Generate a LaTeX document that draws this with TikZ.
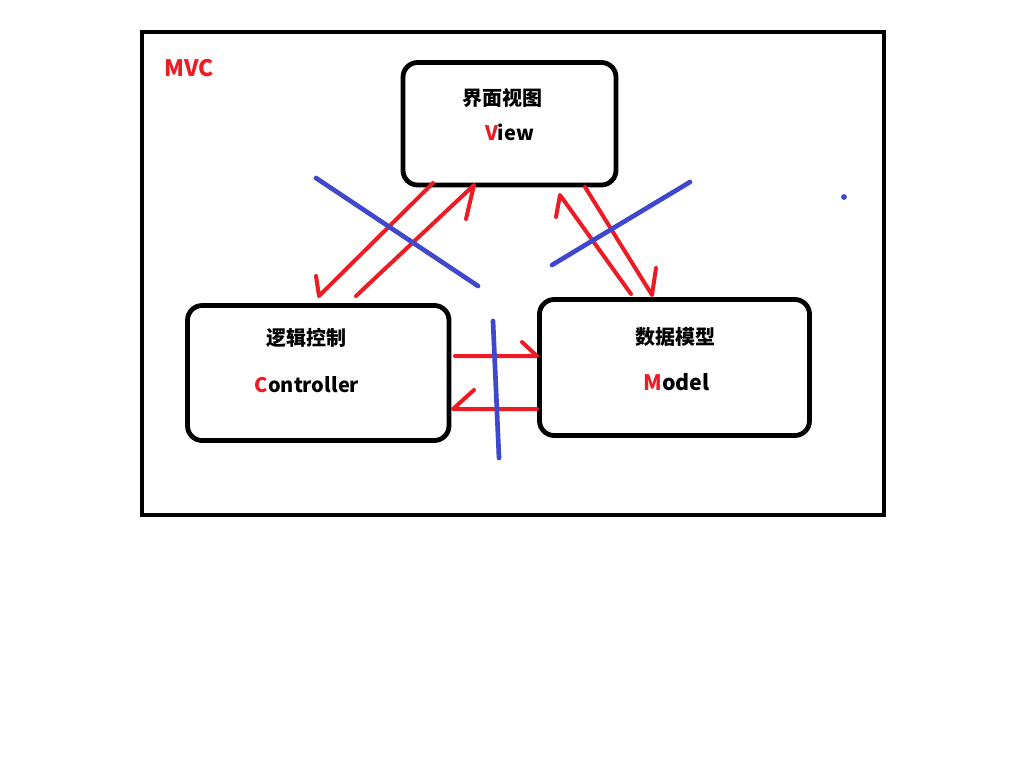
\documentclass[tikz,border=0pt]{standalone}
\usepackage{fontspec}
\setmainfont{Noto Sans CJK SC}
\definecolor{mred}{HTML}{ED1C24}
\definecolor{mblue}{HTML}{3F48CC}
\tikzset{
  box/.style={draw=black, line width=3.6pt, rounded corners=11pt, inner sep=0pt},
  frame/.style={draw=black, line width=3.6pt, inner sep=0pt},
  redarrow/.style={draw=mred, line width=3pt, line join=round, line cap=round},
  blueline/.style={draw=mblue, line width=3.5pt, line cap=round},
  lbl/.style={font=\bfseries\fontsize{15pt}{18pt}\selectfont, inner sep=0pt}
}
\begin{document}
\begin{tikzpicture}[x=0.75pt, y=-0.75pt]
\fill[white] (0,0) rectangle (1024,768);
\useasboundingbox (0,0) rectangle (1024,768);
% frame
\node[frame, minimum width=556.5pt, minimum height=362.25pt] (frame) at (513,273.5) {};
\node[lbl, font=\bfseries\fontsize{17pt}{20pt}\selectfont, text=mred, anchor=base west] (mvc) at (164,76.7) {MVC};
% boxes
\node[box, minimum width=159.75pt, minimum height=91.9pt] (view) at (509.5,123.75) {};
\node[box, minimum width=196.1pt, minimum height=101.25pt] (ctrl) at (318.25,373) {};
\node[box, minimum width=202.5pt, minimum height=102pt] (model) at (674.5,367.5) {};
% labels
\node[lbl] (viewcn) at (502,97.5) {界面视图};
\node[lbl, anchor=base] (viewen) at (509.5,140.7) {\textcolor{mred}{V}iew};
\node[lbl] (ctrlcn) at (306,337.5) {逻辑控制};
\node[lbl, anchor=base] (ctrlen) at (307,392.7) {\textcolor{mred}{C}ontroller};
\node[lbl] (modelcn) at (675.5,336.7) {数据模型};
\node[lbl, font=\bfseries\fontsize{16pt}{19pt}\selectfont, anchor=base] (modelen) at (676.5,390) {\textcolor{mred}{M}odel};
% arrow coordinates
\coordinate (a1s) at (433,183); \coordinate (a1t) at (319,296); \coordinate (a1b) at (316,276);
\coordinate (a2s) at (356,296); \coordinate (a2t) at (474,185); \coordinate (a2b) at (466,219);
\coordinate (a3s) at (631,294); \coordinate (a3t) at (560,195); \coordinate (a3b) at (556,217);
\coordinate (a4s) at (585,187); \coordinate (a4t) at (652,295); \coordinate (a4b) at (656,268);
\coordinate (a5s) at (455,356); \coordinate (a5t) at (537,356); \coordinate (a5b) at (522,342);
\coordinate (a6s) at (537,409); \coordinate (a6t) at (453,409); \coordinate (a6b) at (474,390);
\draw[redarrow] (a1s) -- (a1t) -- (a1b);
\draw[redarrow] (a2s) -- (a2t) -- (a2b);
\draw[redarrow] (a3s) -- (a3t) -- (a3b);
\draw[redarrow] (a4s) -- (a4t) -- (a4b);
\draw[redarrow] (a5s) -- (a5t) -- (a5b);
\draw[redarrow] (a6s) -- (a6t) -- (a6b);
% blue strokes
\coordinate (b1s) at (316,178); \coordinate (b1e) at (478,286);
\coordinate (b2s) at (552,265); \coordinate (b2e) at (690,182);
\coordinate (b3s) at (493,321); \coordinate (b3e) at (499,458);
\coordinate (dot) at (844,197);
\draw[blueline] (b1s) -- (b1e);
\draw[blueline] (b2s) -- (b2e);
\draw[blueline] (b3s) -- (b3e);
\fill[mblue] (dot) circle (2.2pt);
\end{tikzpicture}
\end{document}
